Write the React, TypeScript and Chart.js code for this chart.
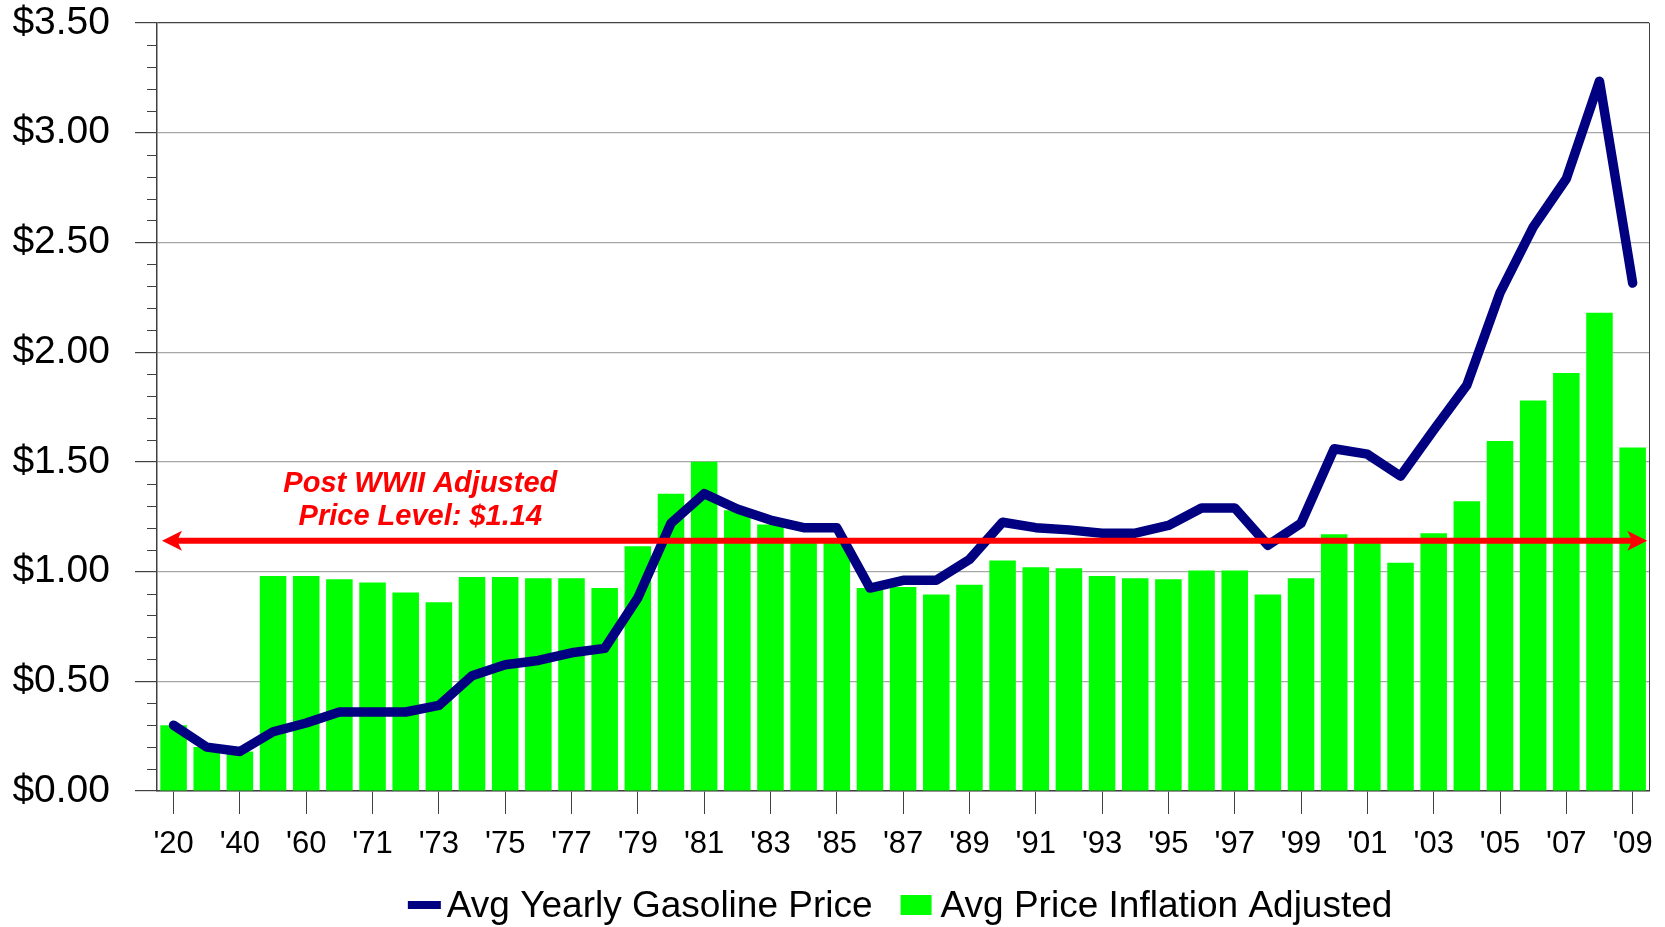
import React, { useEffect, useRef } from 'react';
import { Chart, registerables } from 'chart.js';

Chart.register(...registerables);

const categories = [
  "'20", "'30", "'40", "'50", "'60",
  "'70", "'71", "'72", "'73", "'74", "'75", "'76", "'77", "'78", "'79",
  "'80", "'81", "'82", "'83", "'84", "'85", "'86", "'87", "'88", "'89",
  "'90", "'91", "'92", "'93", "'94", "'95", "'96", "'97", "'98", "'99",
  "'00", "'01", "'02", "'03", "'04", "'05", "'06", "'07", "'08", "'09",
];

const gasolinePrice = [
  0.30, 0.20, 0.18, 0.27, 0.31,
  0.36, 0.36, 0.36, 0.39, 0.525, 0.575, 0.595, 0.63, 0.65, 0.88,
  1.22, 1.355, 1.285, 1.235, 1.20, 1.20, 0.925, 0.96, 0.96, 1.055,
  1.225, 1.20, 1.19, 1.175, 1.175, 1.21, 1.29, 1.29, 1.12, 1.22,
  1.56, 1.535, 1.435, 1.645, 1.85, 2.27, 2.57, 2.79, 3.235, 2.315,
];

const inflationAdjusted = [
  0.30, 0.20, 0.18, 0.98, 0.98,
  0.965, 0.95, 0.905, 0.86, 0.975, 0.975, 0.97, 0.97, 0.925, 1.115,
  1.355, 1.50, 1.28, 1.215, 1.15, 1.14, 0.925, 0.93, 0.895, 0.94,
  1.05, 1.02, 1.015, 0.98, 0.97, 0.965, 1.005, 1.005, 0.895, 0.97,
  1.17, 1.13, 1.04, 1.175, 1.32, 1.595, 1.78, 1.905, 2.18, 1.565,
];

const seriesLabels = ['Avg Yearly Gasoline Price', 'Avg Price Inflation Adjusted'];
const referenceLevel = 1.14;
const annotationLines = ['Post WWII Adjusted', 'Price Level: $1.14'];
const yMax = 3.5;
const yStep = 0.5;
const minorStep = 0.1;

const FONT = '"Liberation Sans", Arial, Helvetica, sans-serif';
const NAVY = '#000080';
const GREEN = '#00ff00';
const RED = '#ff0000';
const AXIS = '#404040';
const GRID = '#a6a6a6';

const decorPlugin = {
  id: 'decor',
  afterDatasetsDraw(chart: any) {
    const { ctx, chartArea } = chart;
    const y = chart.scales.y;
    const x = chart.scales.x;
    const ay = y.getPixelForValue(referenceLevel);
    const l = chartArea.left + 5;
    const r = chartArea.right - 2;
    ctx.save();
    ctx.strokeStyle = RED;
    ctx.fillStyle = RED;
    ctx.lineWidth = 6;
    ctx.beginPath();
    ctx.moveTo(l + 14, ay);
    ctx.lineTo(r - 14, ay);
    ctx.stroke();
    // left head
    ctx.beginPath();
    ctx.moveTo(l, ay);
    ctx.lineTo(l + 20, ay - 10);
    ctx.lineTo(l + 15, ay);
    ctx.lineTo(l + 20, ay + 10);
    ctx.closePath();
    ctx.fill();
    // right head
    ctx.beginPath();
    ctx.moveTo(r, ay);
    ctx.lineTo(r - 20, ay - 10);
    ctx.lineTo(r - 15, ay);
    ctx.lineTo(r - 20, ay + 10);
    ctx.closePath();
    ctx.fill();
    // annotation text
    const tx = x.getPixelForValue(7.44);
    ctx.font = `italic bold 29px ${FONT}`;
    ctx.textAlign = 'center';
    ctx.textBaseline = 'alphabetic';
    ctx.fillText(annotationLines[0], tx, ay - 49);
    ctx.fillText(annotationLines[1], tx, ay - 16);
    ctx.restore();
  },
  afterDraw(chart: any) {
    const { ctx, chartArea } = chart;
    const y = chart.scales.y;
    ctx.save();
    // minor ticks
    ctx.strokeStyle = AXIS;
    ctx.lineWidth = 1;
    for (let i = 1; i < Math.round(yMax / minorStep); i++) {
      if (i % 5 === 0) continue;
      const py = Math.round(y.getPixelForValue(i * minorStep)) + 0.5;
      ctx.beginPath();
      ctx.moveTo(chartArea.left - 10, py);
      ctx.lineTo(chartArea.left, py);
      ctx.stroke();
    }
    // right frame
    ctx.beginPath();
    ctx.moveTo(Math.round(chartArea.right) + 0.5, chartArea.top);
    ctx.lineTo(Math.round(chartArea.right) + 0.5, chartArea.bottom);
    ctx.stroke();

    // legend
    ctx.font = `37px ${FONT}`;
    ctx.textBaseline = 'alphabetic';
    ctx.textAlign = 'left';
    const w1 = ctx.measureText(seriesLabels[0]).width;
    const w2 = ctx.measureText(seriesLabels[1]).width;
    const total = 33 + 6 + w1 + 28 + 31 + 9 + w2;
    let lx = (chartArea.left + chartArea.right) / 2 - 3 - total / 2;
    const base = chart.height - 10.5;
    ctx.fillStyle = NAVY;
    ctx.fillRect(lx, base - 15.5, 33, 8);
    lx += 33 + 6;
    ctx.fillStyle = '#000';
    ctx.fillText(seriesLabels[0], lx, base);
    lx += w1 + 28;
    ctx.fillStyle = GREEN;
    ctx.fillRect(lx, base - 21.5, 31, 20);
    lx += 31 + 9;
    ctx.fillStyle = '#000';
    ctx.fillText(seriesLabels[1], lx, base);
    ctx.restore();
  },
};

export default function App() {
  const ref = useRef<HTMLCanvasElement | null>(null);
  useEffect(() => {
    if (!ref.current) return;
    const chart = new Chart(ref.current, {
      type: 'bar',
      data: {
        labels: categories,
        datasets: [
          {
            type: 'line',
            label: seriesLabels[0],
            data: gasolinePrice,
            borderColor: NAVY,
            backgroundColor: NAVY,
            borderWidth: 9.5,
            pointRadius: 0,
            tension: 0,
            borderCapStyle: 'round',
            borderJoinStyle: 'round',
            order: 0,
          } as any,
          {
            type: 'bar',
            label: seriesLabels[1],
            data: inflationAdjusted,
            backgroundColor: GREEN,
            borderWidth: 0,
            categoryPercentage: 1,
            barPercentage: 0.8,
            order: 1,
          },
        ],
      },
      options: {
        responsive: false,
        animation: false,
        devicePixelRatio: 1,
        layout: { padding: { left: 0, right: 14, top: 1, bottom: 45 } },
        plugins: {
          legend: { display: false },
          tooltip: { enabled: false },
          title: { display: false },
        },
        scales: {
          x: {
            offset: true,
            grid: {
              offset: false,
              drawOnChartArea: false,
              tickLength: 23,
              tickColor: (c: any) => (c.index % 2 === 0 ? AXIS : 'rgba(0,0,0,0)'),
            },
            border: { display: true, color: AXIS, width: 1.5 },
            ticks: {
              autoSkip: false,
              maxRotation: 0,
              minRotation: 0,
              padding: 12,
              color: '#000',
              font: { family: FONT, size: 31 },
              callback: function (this: any, v: any, i: number) {
                return i % 2 === 0 ? this.getLabelForValue(v) : '';
              },
            },
            afterFit: (s: any) => {
              s.height = 91;
            },
          },
          y: {
            min: 0,
            max: yMax,
            grid: {
              color: (c: any) => (c.tick && c.tick.value === yMax ? AXIS : GRID),
              tickColor: AXIS,
              tickLength: 22,
              lineWidth: 1.2,
            },
            border: { display: true, color: AXIS, width: 1.5 },
            ticks: {
              stepSize: yStep,
              padding: 25,
              color: '#000',
              font: { family: FONT, size: 39 },
              callback: (v: any) => '$' + Number(v).toFixed(2),
            },
            afterFit: (s: any) => {
              s.width = 157;
              s.paddingTop = 23;
            },
          },
        },
      },
      plugins: [decorPlugin],
    });
    return () => chart.destroy();
  }, []);
  return (
    <canvas
      ref={ref}
      width={1665}
      height={927}
      style={{ position: 'absolute', left: 0, top: 0, width: '1665px', height: '927px', display: 'block', background: '#fff' }}
    />
  );
}
